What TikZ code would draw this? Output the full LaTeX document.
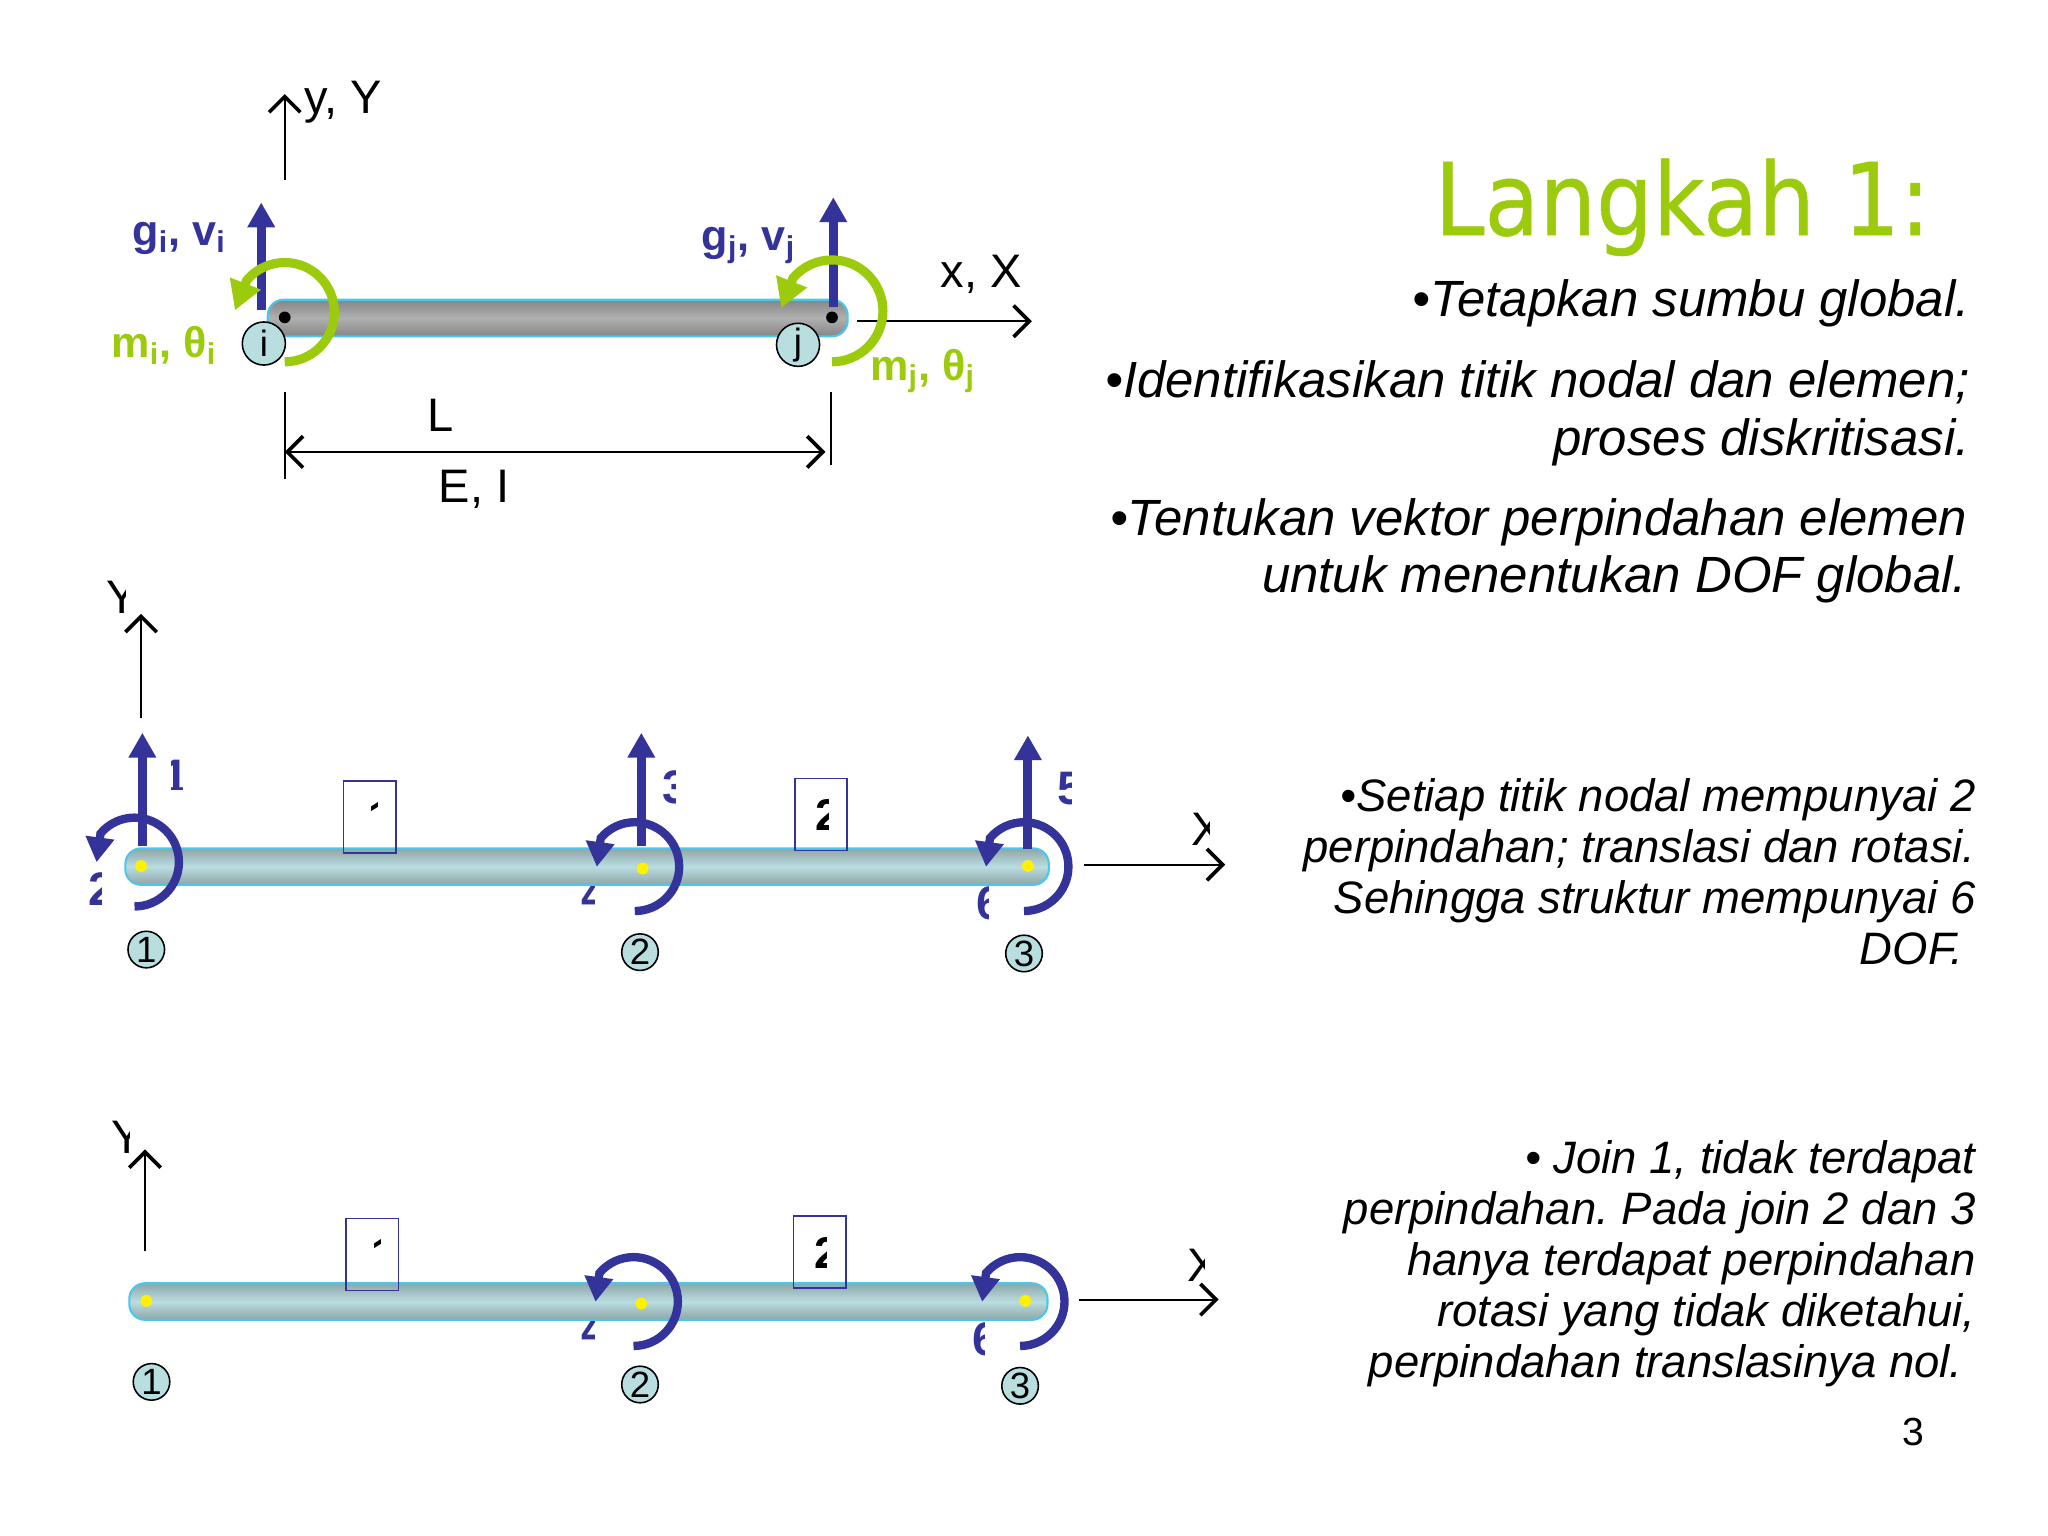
\documentclass[tikz,border=0pt]{standalone}
\usepackage{fontspec}
\setmainfont{Liberation Sans}
\newfontfamily\titlefont[FakeStretch=0.89,FakeBold=0.5]{DejaVu Sans}
\usetikzlibrary{arrows.meta}
\definecolor{lineblue}{HTML}{33339A}
\definecolor{limegreen}{HTML}{9CCB0E}
\definecolor{beamedge}{HTML}{4CC6EA}
\definecolor{beamgrey}{HTML}{858585}
\definecolor{beamgreylight}{HTML}{B0B0B0}
\definecolor{beamteal}{HTML}{8FA5A6}
\definecolor{beamteallight}{HTML}{B9DDE1}
\definecolor{jointfill}{HTML}{B8DEDF}
\tikzset{
  axisline/.style={line width=.8pt, -{Straight Barb[length=6pt,width=12pt,line width=1.4pt]}},
  dimline/.style={line width=.7pt, {Straight Barb[length=6pt,width=12pt,line width=1.4pt]}-{Straight Barb[length=6pt,width=12pt,line width=1.4pt]}},
  tickline/.style={line width=.7pt},
  dofarrow/.style={draw=lineblue, line width=3.4pt, -{Triangle[length=9.5pt,width=10pt]}},
  bluearc/.style={draw=lineblue, line width=3.2pt, -{Triangle[length=9.5pt,width=10.5pt]}},
  greenarc/.style={draw=limegreen, line width=3.5pt, -{Triangle[length=11pt,width=12pt]}},
  beambar/.style={rectangle, rounded corners=6pt, draw=beamedge, line width=.8pt, minimum height=14pt, inner sep=0pt},
  greybar/.style={beambar, top color=beamgrey, bottom color=beamgrey, middle color=beamgreylight},
  tealbar/.style={beambar, top color=beamteal, bottom color=beamteal, middle color=beamteallight},
  jointdot/.style={circle, fill=#1, minimum size=4.5pt, inner sep=0pt},
  jointmark/.style={circle, draw=black, line width=.6pt, fill=jointfill, minimum size=14pt, inner sep=0pt, font=\fontsize{14}{16}\selectfont},
  endmark/.style={jointmark, minimum size=16.5pt},
  elembox/.style={rectangle, draw=lineblue, line width=.6pt, minimum width=20pt, minimum height=27.5pt, inner sep=0pt},
  plainlabel/.style={font=\fontsize{18}{20}\selectfont},
  bluelabel/.style={font=\bfseries\fontsize{16.5}{20}\selectfont, text=lineblue},
  greenlabel/.style={font=\bfseries\fontsize{16.5}{20}\selectfont, text=limegreen},
  doflabel/.style={font=\bfseries\fontsize{18}{20}\selectfont, text=lineblue, inner sep=0pt},
  elemlabel/.style={font=\bfseries\fontsize{17}{20}\selectfont, inner sep=0pt},
  bodylarge/.style={font=\frenchspacing\itshape\fontsize{19.5}{22}\selectfont, align=right, anchor=north east, inner sep=0pt},
  bodysmall/.style={font=\frenchspacing\itshape\fontsize{17.4}{19.5}\selectfont, align=right, anchor=north east, inner sep=0pt}
}
% text seen only inside a box: name, style, x, baseline y, box corners, text
\newcommand{\boxlabel}[7]{
  \begin{scope}
    \clip (#5) rectangle (#6);
    \node[#2, anchor=base west] (#1) at (#3,#4) {#7};
  \end{scope}
}
% same, cut off at its right side: name, style, x, baseline y, visible width, text
\newcommand{\cutlabel}[6]{
  \begin{scope}
    \clip (#3,#4) ++(-4,-40) rectangle ++({#5+4},60);
    \node[#2, anchor=base west] (#1) at (#3,#4) {#6};
  \end{scope}
}

\begin{document}
\begin{tikzpicture}[x=.5pt, y=-.5pt]
  \useasboundingbox (0,0) rectangle (1568,1176);

  % element with its end actions
  \coordinate (yAstart) at (218,138);
  \coordinate (yAend) at (218,72);
  \coordinate (xAstart) at (656,246);
  \coordinate (xAend) at (790,246);
  \draw[axisline] (yAstart) -- (yAend);
  \draw[axisline] (xAstart) -- (xAend);
  \node[plainlabel, anchor=base west, inner sep=0pt] (yAlabel) at (233,87) {y, Y};
  \node[plainlabel, anchor=base west, inner sep=0pt] (xAlabel) at (720,220) {x, X};
  \node[greybar, minimum width=222pt] (beamA) at (427,243.5) {};
  \coordinate (giStart) at (200,237);
  \coordinate (giEnd) at (200,155);
  \coordinate (gjStart) at (638,235);
  \coordinate (gjEnd) at (638,151);
  \draw[dofarrow] (giStart) -- (giEnd);
  \draw[dofarrow] (gjStart) -- (gjEnd);
  \coordinate (miCentre) at (218,239);
  \coordinate (mjCentre) at (637,238);
  \draw[greenarc] (miCentre) ++(90:38) arc (90:-140:38) -- ++(-9,23);
  \draw[greenarc] (mjCentre) ++(90:39) arc (90:-140:39) -- ++(-9,23);
  \node[jointdot=black] (dotI) at (218,243) {};
  \node[jointdot=black] (dotJ) at (637,243) {};
  \node[endmark] (nodeI) at (202,263) {i};
  \node[endmark] (nodeJ) at (611,264) {j};
  \node[bluelabel, anchor=base west, inner sep=0pt] (giLabel) at (101,188) {g\textsubscript{i}, v\textsubscript{i}};
  \node[bluelabel, anchor=base west, inner sep=0pt] (gjLabel) at (537,192) {g\textsubscript{j}, v\textsubscript{j}};
  \node[greenlabel, anchor=base west, inner sep=0pt] (miLabel) at (85,274) {m\textsubscript{i}, θ\textsubscript{i}};
  \node[greenlabel, anchor=base west, inner sep=0pt] (mjLabel) at (666,291) {m\textsubscript{j}, θ\textsubscript{j}};
  \coordinate (tickAtop) at (218,300);
  \coordinate (tickAbot) at (218,367);
  \coordinate (tickBtop) at (636,300);
  \coordinate (tickBbot) at (636,356);
  \coordinate (dimA) at (218,346);
  \coordinate (dimB) at (632,346);
  \draw[tickline] (tickAtop) -- (tickAbot);
  \draw[tickline] (tickBtop) -- (tickBbot);
  \draw[dimline] (dimA) -- (dimB);
  \node[plainlabel] (lenLabel) at (337,318) {L};
  \node[plainlabel] (propLabel) at (363,375) {E, I};

  % structure with all displacements
  \coordinate (yBstart) at (108,550);
  \coordinate (yBend) at (108,470);
  \coordinate (xBstart) at (830,662);
  \coordinate (xBend) at (938,662);
  \draw[axisline] (yBstart) -- (yBend);
  \draw[axisline] (xBstart) -- (xBend);
  \cutlabel{yBlabel}{plainlabel, inner sep=0pt}{81}{470}{15}{Y}
  \cutlabel{xBlabel}{plainlabel, inner sep=0pt}{912}{647}{14}{X}
  \boxlabel{dofOne}{doflabel}{124}{607}{131,575}{139.5,604.5}{1}
  \cutlabel{dofTwo}{doflabel}{67}{693}{11}{2}
  \cutlabel{dofThree}{doflabel}{507}{615}{10}{3}
  \cutlabel{dofFour}{doflabel}{445}{698}{10}{4}
  \cutlabel{dofFive}{doflabel}{809}{616}{11}{5}
  \cutlabel{dofSix}{doflabel}{747}{704}{10}{6}
  \node[tealbar, minimum width=353.5pt] (beamB) at (449.5,663.5) {};
  \coordinate (dofOneStart) at (109,648);
  \coordinate (dofOneEnd) at (109,561);
  \coordinate (dofThreeStart) at (491,648);
  \coordinate (dofThreeEnd) at (491,561);
  \coordinate (dofFiveStart) at (787,650);
  \coordinate (dofFiveEnd) at (787,563);
  \draw[dofarrow] (dofOneStart) -- (dofOneEnd);
  \draw[dofarrow] (dofThreeStart) -- (dofThreeEnd);
  \draw[dofarrow] (dofFiveStart) -- (dofFiveEnd);
  \node[jointdot=yellow] (dotB1) at (108,663) {};
  \node[jointdot=yellow] (dotB2) at (492,665) {};
  \node[jointdot=yellow] (dotB3) at (787,663) {};
  \coordinate (arcB1) at (103,660);
  \coordinate (arcB2) at (486,663.5);
  \coordinate (arcB3) at (784,663.5);
  \draw[bluearc] (arcB1) ++(90:34) arc (90:-140:34) -- ++(-3,22);
  \draw[bluearc] (arcB2) ++(90:34) arc (90:-140:34) -- ++(-3,22);
  \draw[bluearc] (arcB3) ++(90:34) arc (90:-140:34) -- ++(-3,22);
  \node[elembox] (boxB1) at (283,625.5) {};
  \node[elembox] (boxB2) at (628.5,623.5) {};
  \boxlabel{elemB1}{elemlabel}{282}{637}{282,610}{289,624}{1}
  \cutlabel{elemB2}{elemlabel}{624}{636}{10}{2}
  \node[jointmark] (nodeB1) at (112,727) {1};
  \node[jointmark] (nodeB2) at (490,729) {2};
  \node[jointmark] (nodeB3) at (784,730) {3};

  % structure with the unknown rotations
  \coordinate (yCstart) at (111,958);
  \coordinate (yCend) at (111,880);
  \coordinate (xCstart) at (826,995);
  \coordinate (xCend) at (933,995);
  \draw[axisline] (yCstart) -- (yCend);
  \draw[axisline] (xCstart) -- (xCend);
  \cutlabel{yClabel}{plainlabel, inner sep=0pt}{85}{883}{14}{Y}
  \cutlabel{xClabel}{plainlabel, inner sep=0pt}{909}{981}{13}{X}
  \cutlabel{dofFourC}{doflabel}{445}{1031}{10}{4}
  \cutlabel{dofSixC}{doflabel}{744}{1038}{10}{6}
  \node[tealbar, minimum width=351.5pt] (beamC) at (450.5,996.5) {};
  \node[jointdot=yellow] (dotC1) at (112,996) {};
  \node[jointdot=yellow] (dotC2) at (491,998) {};
  \node[jointdot=yellow] (dotC3) at (785,996) {};
  \coordinate (arcC2) at (485,996.5);
  \coordinate (arcC3) at (781,996.5);
  \draw[bluearc] (arcC2) ++(90:34) arc (90:-140:34) -- ++(-3,22);
  \draw[bluearc] (arcC3) ++(90:34) arc (90:-140:34) -- ++(-3,22);
  \node[elembox] (boxC1) at (285,960.5) {};
  \node[elembox] (boxC2) at (627.5,958.5) {};
  \boxlabel{elemC1}{elemlabel}{284}{972}{284,945}{291,959}{1}
  \cutlabel{elemC2}{elemlabel}{623}{971}{10}{2}
  \node[jointmark] (nodeC1) at (116,1058) {1};
  \node[jointmark] (nodeC2) at (490,1060) {2};
  \node[jointmark] (nodeC3) at (781,1061) {3};

  % slide text
  \node[anchor=base west, inner sep=0pt, text=limegreen, font=\titlefont\fontsize{38.5}{46}\selectfont] (title) at (1098,180) {Langkah 1:};
  \node[bodylarge] (stepOne) at (1508.5,214) {•Tetapkan sumbu global.};
  \node[bodylarge] (stepTwo) at (1508.5,276) {•Identifikasikan titik nodal dan elemen;\\proses diskritisasi.};
  \node[bodylarge] (stepThree) at (1506.5,381) {•Tentukan vektor perpindahan elemen\\untuk menentukan DOF global.};
  \node[bodysmall] (noteOne) at (1513,596) {•Setiap titik nodal mempunyai 2\\perpindahan; translasi dan rotasi.\\Sehingga struktur mempunyai 6\\DOF.\kern5pt};
  \node[bodysmall] (noteTwo) at (1513,873) {• Join 1, tidak terdapat\\perpindahan. Pada join 2 dan 3\\hanya terdapat perpindahan\\rotasi yang tidak diketahui,\\perpindahan translasinya nol.\kern5pt};
  \node[inner sep=0pt, font=\fontsize{15}{18}\selectfont] (pageNo) at (1465,1096) {3};
\end{tikzpicture}
\end{document}
